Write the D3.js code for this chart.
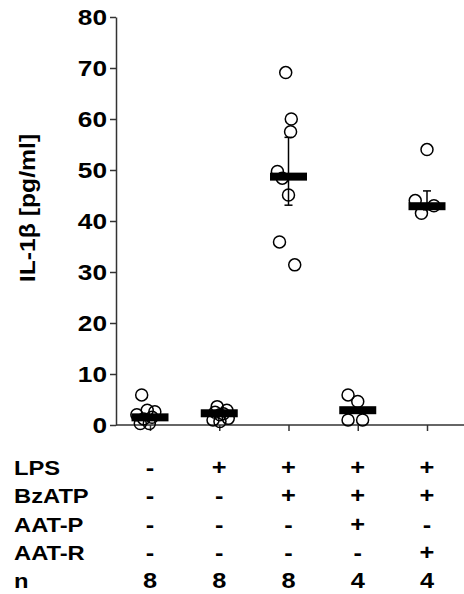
<!DOCTYPE html>
<html>
<head>
<meta charset="utf-8">
<script src="https://cdn.jsdelivr.net/npm/d3@7"></script>
<style>
  html, body { margin: 0; padding: 0; background: #fff; }
  text { font-family: "Liberation Sans", Arial, sans-serif; font-weight: bold; fill: #000; }
</style>
</head>
<body>
<svg id="chart" width="464" height="594"></svg>
<script>
// Treatment groups (one column each)
const groups = ["ctrl", "LPS", "LPS+BzATP", "LPS+BzATP+AAT-P", "LPS+BzATP+AAT-R"];

// IL-1β per replicate, pg/ml
const values = [
  [5.9, 2.9, 2.6, 2.0, 1.5, 1.2, 0.3, 0.3],
  [3.6, 2.9, 2.5, 2.2, 2.0, 1.3, 1.0, 0.7],
  [69.1, 60.0, 57.5, 49.7, 48.4, 45.1, 35.9, 31.4],
  [5.9, 4.6, 1.0, 1.0],
  [54.0, 44.0, 43.0, 41.5]
];
// horizontal scatter of each replicate, as a fraction of the column step
const jitter = [
  [-0.12, -0.04, 0.07, -0.19, 0.03, -0.09, -0.14, -0.01],
  [-0.03, 0.11, -0.06, 0.06, 0.01, 0.13, -0.09, 0.01],
  [-0.04, 0.04, 0.03, -0.16, -0.09, 0.0, -0.13, 0.09],
  [-0.14, 0.0, -0.14, 0.07],
  [0.0, -0.17, 0.10, -0.08]
];
// group centre line and spread whiskers (null = none shown)
const centre = [1.5, 2.3, 48.7, 2.9, 42.9];
const whiskerLow = [null, null, 43.1, null, 42.2];
const whiskerHigh = [null, null, 56.4, null, 45.9];

const yTicks = [0, 10, 20, 30, 40, 50, 60, 70, 80];
const yTitle = "IL-1β [pg/ml]";

// Treatment table under the plot
const rowLabels = ["LPS", "BzATP", "AAT-P", "AAT-R", "n"];
const rowCells = [
  ["-", "+", "+", "+", "+"],
  ["-", "-", "+", "+", "+"],
  ["-", "-", "-", "+", "-"],
  ["-", "-", "-", "-", "+"],
  ["8", "8", "8", "4", "4"]
];

const svg = d3.select("#chart");
const W = 464;
const axisX = 116, y0 = 425, yTop = 17;

const x = d3.scalePoint().domain(groups).range([150, 427]);
const step = x.step();
const y = d3.scaleLinear().domain([0, 80]).range([y0, yTop]);

// widen bold text horizontally by factor k
function stretch(sel, k) {
  sel.each(function () {
    const w = this.getComputedTextLength();
    this.setAttribute("textLength", w * k);
    this.setAttribute("lengthAdjust", "spacingAndGlyphs");
  });
}

// y axis
const yAxis = svg.append("g")
  .attr("transform", `translate(${axisX},0)`)
  .call(d3.axisLeft(y).tickValues(yTicks).tickSize(6).tickPadding(3).tickSizeOuter(0));
yAxis.select(".domain").attr("stroke", "#333").attr("stroke-width", 1.5);
yAxis.selectAll(".tick line").attr("stroke", "#333").attr("stroke-width", 1.5);
yAxis.selectAll(".tick text")
  .attr("font-size", 21.5).attr("font-family", null).attr("dy", "0.36em");
stretch(yAxis.selectAll(".tick text"), 1.22);

// x axis: baseline out to the right edge, ticks at each group
const xAxis = svg.append("g")
  .attr("transform", `translate(0,${y0})`)
  .call(d3.axisBottom(x).tickSize(6).tickSizeOuter(0).tickFormat(""));
xAxis.select(".domain").remove();
xAxis.append("line")
  .attr("x1", axisX).attr("x2", W).attr("y1", 0).attr("y2", 0)
  .attr("stroke", "#333").attr("stroke-width", 1.5);
xAxis.selectAll(".tick line").attr("stroke", "#333").attr("stroke-width", 1.5);

// y title
const yt = svg.append("text")
  .attr("transform", `translate(35,208) rotate(-90)`)
  .attr("text-anchor", "middle")
  .attr("font-size", 21.5)
  .text(yTitle);
stretch(yt, 1.15);

// replicate points (open circles)
const pts = [];
values.forEach((vs, gi) => vs.forEach((v, i) => pts.push({ g: groups[gi], v, j: jitter[gi][i] })));
svg.append("g").selectAll("circle").data(pts).join("circle")
  .attr("cx", d => x(d.g) + d.j * step)
  .attr("cy", d => y(d.v))
  .attr("r", 6)
  .attr("fill", "none")
  .attr("stroke", "#000")
  .attr("stroke-width", 1.5);

// whiskers
const wk = groups.map((g, i) => ({ g, lo: whiskerLow[i], hi: whiskerHigh[i] })).filter(d => d.lo !== null);
const wg = svg.append("g").attr("stroke", "#000").attr("stroke-width", 1.5);
wg.selectAll("line.v").data(wk).join("line").attr("class", "v")
  .attr("x1", d => x(d.g)).attr("x2", d => x(d.g))
  .attr("y1", d => y(d.lo)).attr("y2", d => y(d.hi));
wg.selectAll("line.lo").data(wk).join("line").attr("class", "lo")
  .attr("x1", d => x(d.g) - 4).attr("x2", d => x(d.g) + 4)
  .attr("y1", d => y(d.lo)).attr("y2", d => y(d.lo));
wg.selectAll("line.hi").data(wk).join("line").attr("class", "hi")
  .attr("x1", d => x(d.g) - 4).attr("x2", d => x(d.g) + 4)
  .attr("y1", d => y(d.hi)).attr("y2", d => y(d.hi));

// centre bars
svg.append("g").selectAll("rect").data(groups.map((g, i) => ({ g, v: centre[i] }))).join("rect")
  .attr("x", d => x(d.g) - 18.5)
  .attr("y", d => y(d.v) - 4)
  .attr("width", 37)
  .attr("height", 8)
  .attr("fill", "#000");

// treatment table
const rowY = d3.scaleLinear().domain([0, rowLabels.length - 1]).range([475, 588]);
const tbl = svg.append("g");
const labs = tbl.selectAll("text.lab").data(rowLabels).join("text").attr("class", "lab")
  .attr("x", 14).attr("y", (d, i) => rowY(i))
  .attr("font-size", 21)
  .text(d => d);
stretch(labs, 1.13);
rowCells.forEach((row, ri) => {
  const cells = tbl.selectAll(`text.c${ri}`).data(row).join("text").attr("class", `c${ri}`)
    .attr("x", (d, i) => x(groups[i]))
    .attr("y", rowY(ri))
    .attr("text-anchor", "middle")
    .attr("font-size", 21.5)
    .text(d => d);
  stretch(cells, 1.18);
});
</script>
</body>
</html>
